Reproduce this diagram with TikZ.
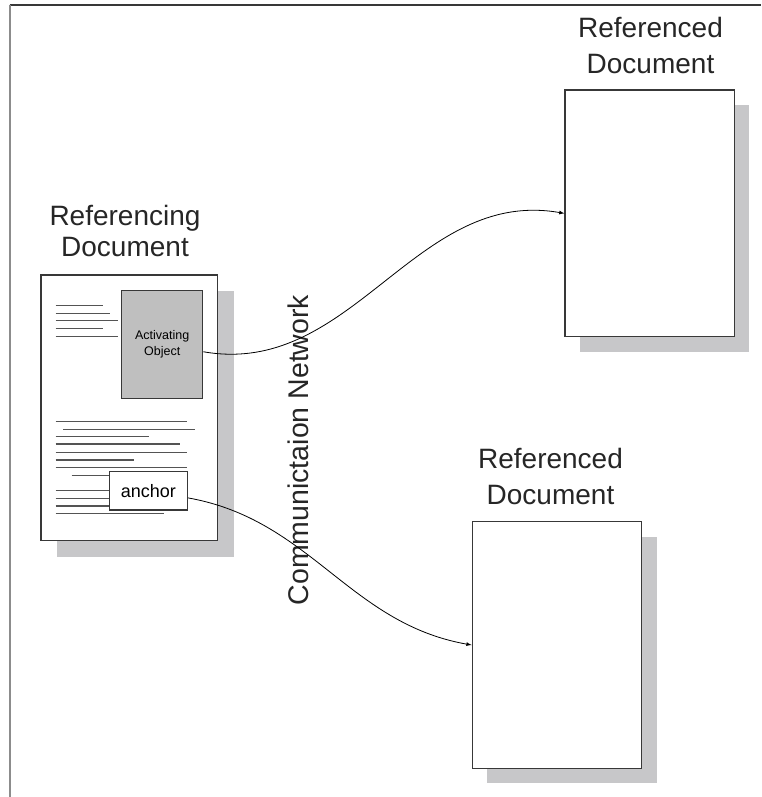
\documentclass[tikz,border=0pt]{standalone}
\usepackage{fontspec}
\setmainfont{Liberation Sans}
\usepackage{tikz}
\usetikzlibrary{arrows}
\definecolor{pageline}{rgb}{0.22,0.22,0.22}
\definecolor{shadegray}{rgb}{0.78,0.78,0.79}
\definecolor{objgray}{rgb}{0.75,0.75,0.75}
\definecolor{textgray}{rgb}{0.33,0.33,0.33}
\definecolor{framegray}{rgb}{0.55,0.55,0.55}
\tikzstyle{page}=[draw=pageline,fill=white,line width=1.3pt,inner sep=0pt,minimum width=169.3pt,minimum height=246.7pt]
\tikzstyle{pageshadow}=[fill=shadegray,inner sep=0pt,minimum width=169.3pt,minimum height=246.7pt]
\tikzstyle{objbox}=[draw=pageline,line width=1.2pt,inner sep=0pt,align=center]
\tikzstyle{doctitle}=[inner sep=0pt,align=center,text=black!85]
\tikzstyle{textline}=[draw=textgray,line width=1.1pt]
\tikzstyle{wire}=[draw=black,line width=0.8pt]

\begin{document}
\begin{tikzpicture}[x=1pt,y=-1pt,>=latex]
	\useasboundingbox (0,0) rectangle (761,797);
	% outer frame (only top and left are seen)
	\draw[line width=1.2pt,pageline] (9.5,5) -- (761,5);
	\draw[line width=2pt,framegray] (9.5,5) -- (9.5,797);

	% referencing document
	\node[pageshadow,minimum width=176.7pt,minimum height=265.7pt] (srcsh) at (145.4,423.9) {};
	\node[page,minimum width=176.7pt,minimum height=265.7pt] (src) at (129.4,407.9) {};
	\node[doctitle,font=\fontsize{28}{31}\selectfont] (srctitle) at (125,231) {Referencing\\Document};
	\path[textline]
		(55.7,305.3) -- (102.7,305.3)
		(55.7,313.3) -- (110,313.3)
		(55.7,320.7) -- (117.7,320.7)
		(55.7,328.7) -- (102.7,328.7)
		(55.7,336.7) -- (117.7,336.7)
		(55.7,421.7) -- (187.3,421.7)
		(63.3,429.3) -- (194.7,429.3)
		(55.7,436.7) -- (148.7,436.7)
		(55.7,444) -- (179.7,444)
		(55.7,452.3) -- (187.3,452.3)
		(55.7,460) -- (133.7,460)
		(55.7,467.7) -- (187.3,467.7)
		(71.7,475.3) -- (109.3,475.3)
		(55.7,490.7) -- (109.3,490.7)
		(55.7,498.3) -- (109.3,498.3)
		(55.7,506) -- (109.3,506)
		(55.7,513.7) -- (164,513.7);
	\node[objbox,fill=objgray,minimum width=81pt,minimum height=107.6pt,font=\fontsize{12.5}{16}\selectfont] (act) at (162.2,344.5) {Activating\\Object};
	\node[objbox,fill=white,minimum width=78pt,minimum height=38.3pt,font=\fontsize{18}{20}\selectfont] (anc) at (148.3,490.9) {anchor};

	% referenced documents
	\node[pageshadow] (dst1sh) at (664.7,228.4) {};
	\node[page] (dst1) at (649.7,213.4) {};
	\node[doctitle,font=\fontsize{28}{36}\selectfont] (dst1title) at (650.5,45.9) {Referenced\\Document};
	\node[pageshadow] (dst2sh) at (571.9,660) {};
	\node[page] (dst2) at (556.9,645) {};
	\node[doctitle,font=\fontsize{28}{36}\selectfont] (dst2title) at (550.5,476.4) {Referenced\\Document};

	\node[rotate=90,inner sep=0pt,text=black!85,font=\fontsize{28.5}{30}\selectfont] (net) at (298,450) {Communictaion Network};

	\path[wire,->]
		(act)	edge[out=-10,in=170]	(dst1.west)
		(anc)	edge[out=-10,in=170]	(dst2.west);
\end{tikzpicture}
\end{document}
